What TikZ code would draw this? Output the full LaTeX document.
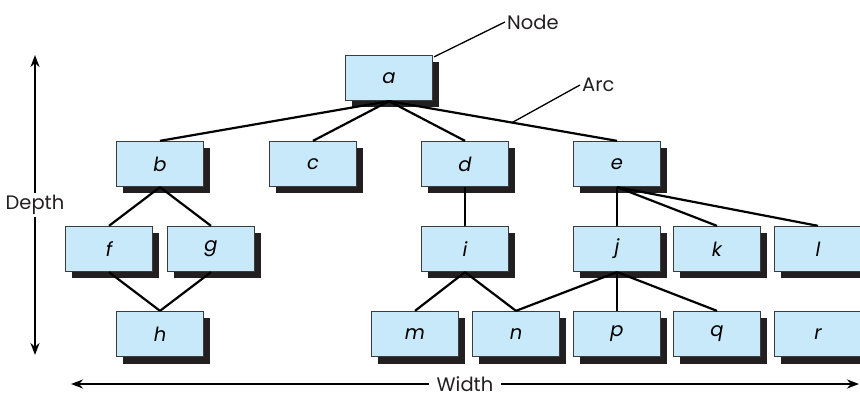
\documentclass[tikz,border=0pt]{standalone}
\usepackage{fontspec}
\setmainfont{Poppins}
\usepackage{tikz}
\usetikzlibrary{arrows.meta,shadows,positioning}
\definecolor{boxblue}{HTML}{C8E9F9}
\definecolor{boxline}{HTML}{3C3C3C}
\definecolor{shade}{HTML}{231F20}

\begin{document}
\begin{tikzpicture}[x=1pt,y=-1pt,>=Stealth,
  treebox/.style={draw=boxline,line width=1.3pt,fill=boxblue,
    minimum width=87pt,minimum height=45pt,inner sep=0pt,
    font=\fontsize{19.5}{22}\selectfont\itshape,
    drop shadow={shadow xshift=6.5pt,shadow yshift=-7pt,fill=shade,opacity=1}},
  arc/.style={line width=2.2pt,shade},
  pointer/.style={line width=1.3pt,shade},
  dim/.style={line width=2pt,shade,<->},
  tag/.style={font=\fontsize{19.5}{22}\selectfont,text=shade,inner sep=2pt}]
  \useasboundingbox (0,0) rectangle (860,398);
  % root and first level
  \node[treebox] (a) at (389,78) {a};
  \node[treebox] (b) at (160,164) {b};
  \node[treebox] (c) at (313,164) {c};
  \node[treebox] (d) at (465,164) {d};
  \node[treebox] (e) at (617,164) {e};
  % second level
  \node[treebox] (f) at (109,249) {f};
  \node[treebox] (g) at (211,249) {g};
  \node[treebox] (i) at (465,249) {i};
  \node[treebox] (j) at (617,249) {j};
  \node[treebox] (k) at (717,249) {k};
  \node[treebox] (l) at (818,249) {l};
  % third level
  \node[treebox] (h) at (160,334) {h};
  \node[treebox] (m) at (415,334) {m};
  \node[treebox] (n) at (516,334) {n};
  \node[treebox] (p) at (617,334) {p};
  \node[treebox] (q) at (717,334) {q};
  \node[treebox] (r) at (818,334) {r};
  % arcs
  \draw[arc] (a.south) -- (b.north);
  \draw[arc] (a.south) -- (c.north);
  \draw[arc] (a.south) -- (d.north);
  \draw[arc] (a.south) -- coordinate[pos=0.54] (arcpt) (e.north);
  \draw[arc] (b.south) -- (f.north);
  \draw[arc] (b.south) -- (g.north);
  \draw[arc] (f.south) -- (h.north);
  \draw[arc] (g.south) -- (h.north);
  \draw[arc] (d.south) -- (i.north);
  \draw[arc] (e.south) -- (j.north);
  \draw[arc] (e.south) -- (k.north);
  \draw[arc] (e.south) -- (l.north);
  \draw[arc] (i.south) -- (m.north);
  \draw[arc] (i.south) -- (n.north);
  \draw[arc] (j.south) -- (n.north);
  \draw[arc] (j.south) -- (p.north);
  \draw[arc] (j.south) -- (q.north);
  % callouts
  \node[tag,anchor=west] (nodelbl) at (505,22) {Node};
  \draw[pointer] ([xshift=1pt,yshift=-2pt]a.north east) -- (nodelbl.west);
  \node[tag,anchor=west] (arclbl) at (580,85) {Arc};
  \draw[pointer] (arcpt) -- (arclbl.west);
  % dimensions
  \coordinate (dtop) at (35,55);
  \coordinate (dbot) at (35,355);
  \draw[dim] (dtop) -- (dbot) node[tag,midway,fill=white] {Depth};
  \coordinate (wleft) at (71,384);
  \coordinate (wright) at (859,384);
  \draw[dim] (wleft) -- (wright) node[tag,midway,fill=white,inner xsep=8pt,inner ysep=0pt] {Width};
\end{tikzpicture}
\end{document}
